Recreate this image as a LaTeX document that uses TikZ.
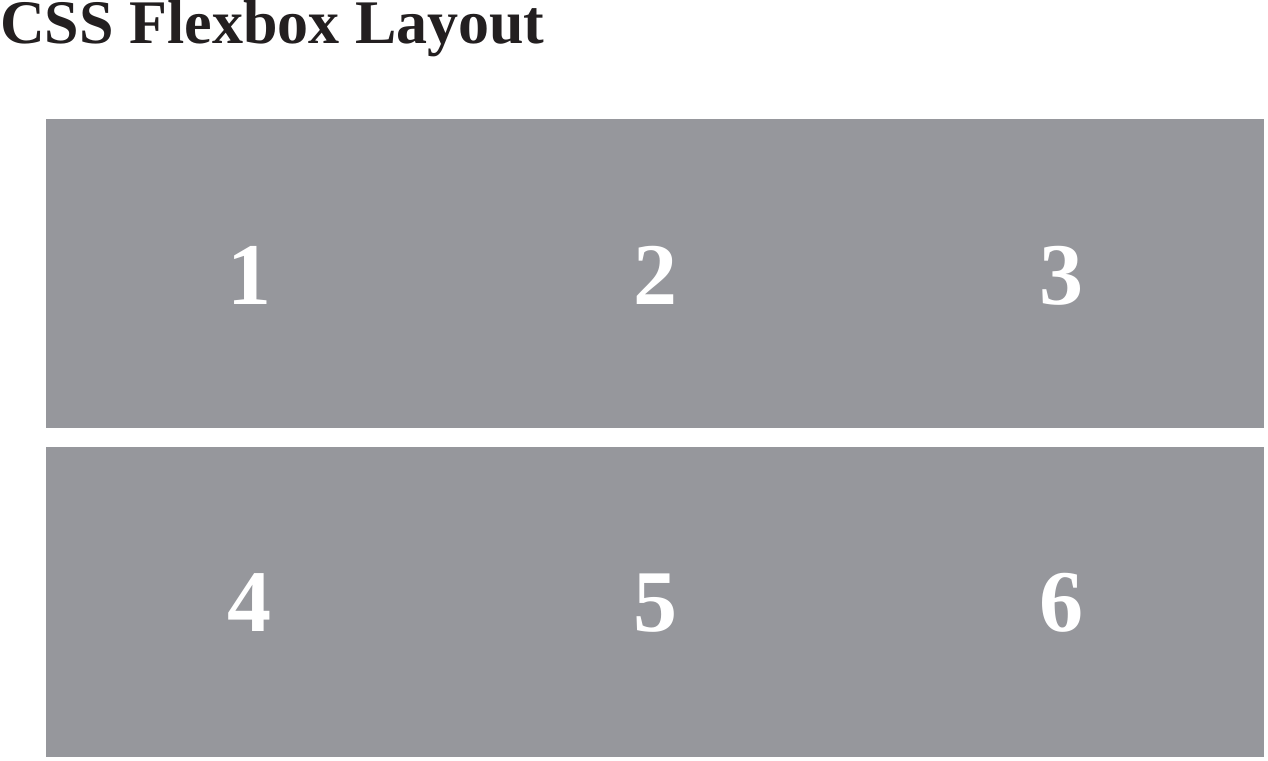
\documentclass[tikz,border=0pt]{standalone}
\usepackage{fontspec}
\setmainfont{Liberation Serif}
\definecolor{boxgray}{RGB}{150,151,156}
\definecolor{titleink}{RGB}{35,31,32}
\tikzset{
  rowbox/.style={fill=boxgray, draw=none, minimum width=1218pt, minimum height=309pt, inner sep=0pt, anchor=north west},
  num/.style={text=white, font=\fontsize{88}{88}\selectfont\bfseries, inner sep=0pt},
  title/.style={text=titleink, font=\fontsize{62}{62}\selectfont\bfseries, inner sep=0pt, anchor=base west}
}
\begin{document}
\begin{tikzpicture}[x=1pt,y=-1pt]
\useasboundingbox (0,0) rectangle (1268,760);
\fill[white] (0,0) rectangle (1268,760);
\node[title] (t) at (0,44) {CSS Flexbox Layout};
\node[rowbox] (r1) at (46,119) {};
\node[rowbox, minimum height=310pt] (r2) at (46,447) {};
\node[num] (n1) at (249,275.5) {1};
\node[num] (n2) at (655,275.5) {2};
\node[num] (n3) at (1061,275.5) {3};
\node[num] (n4) at (249,603) {4};
\node[num] (n5) at (655,603) {5};
\node[num] (n6) at (1061,603) {6};
\end{tikzpicture}
\end{document}
